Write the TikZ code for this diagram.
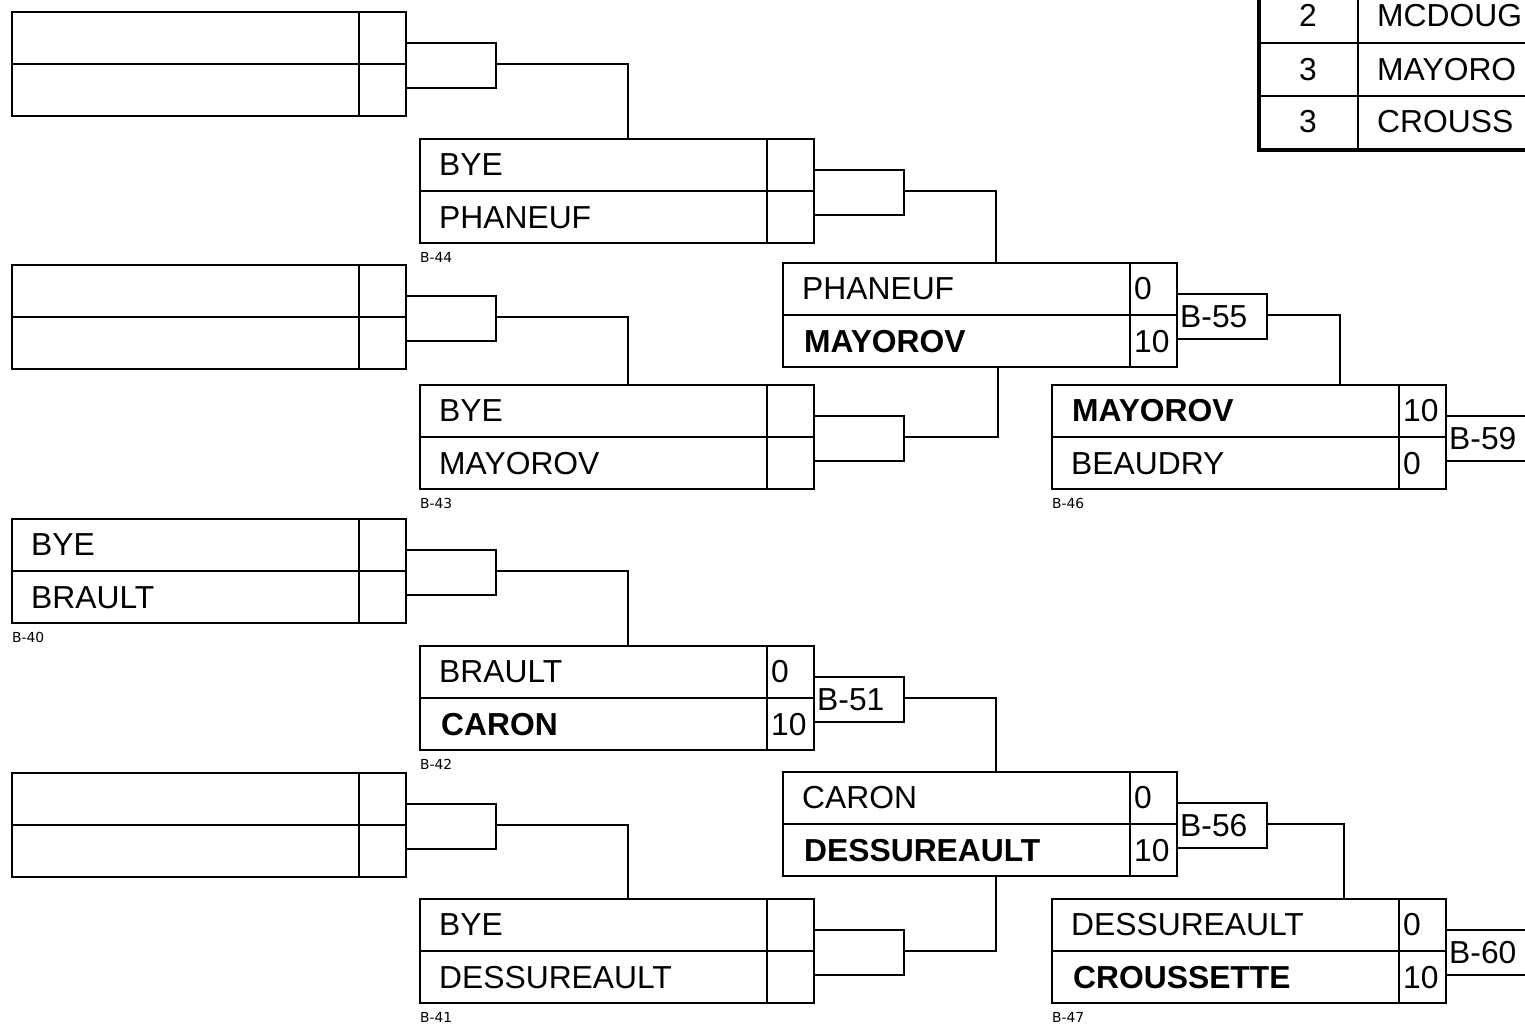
\documentclass[tikz,border=0pt]{standalone}
\usepackage{fontspec}
\setmainfont{Liberation Sans}
\newfontfamily\labfont{DejaVu Sans}
\usetikzlibrary{calc}
\tikzset{
  ln/.style={line width=2pt},
  mbox/.style={draw, line width=2pt, rectangle, minimum width=394pt, minimum height=104pt, anchor=north west, inner sep=0pt, outer sep=0pt},
  brk/.style={draw, line width=2pt, rectangle, minimum width=90pt, minimum height=45pt, anchor=north west, inner sep=0pt, outer sep=0pt},
  nm/.style={anchor=base west, inner sep=0pt, font=\fontsize{31.8}{38}\selectfont},
  lab/.style={anchor=base west, inner sep=0pt, font=\labfont\fontsize{13.8}{16}\selectfont},
}
% #1 name, #2 x, #3 y, #4 top name, #5 bottom name, #6 top score, #7 bottom score, #8 label
\newcommand\mtch[8]{%
  \node[mbox] (#1) at (#2,#3) {};
  \draw[ln] (#1.west) -- (#1.east);
  \draw[ln] ([xshift=347pt]#1.north west) -- ([xshift=347pt]#1.south west);
  \node[nm] (#1-a) at ([xshift=19pt,yshift=-36pt]#1.north west) {#4};
  \node[nm] (#1-b) at ([xshift=19pt,yshift=-89pt]#1.north west) {#5};
  \node[nm] (#1-as) at ([xshift=351pt,yshift=-36pt]#1.north west) {#6};
  \node[nm] (#1-bs) at ([xshift=351pt,yshift=-89pt]#1.north west) {#7};
  \node[lab] (#1-l) at ([yshift=-19pt]#1.south west) {#8};
}
% bracket: #1 match name, #2 text
\newcommand\bkt[2]{%
  \node[brk] (#1-k) at ([yshift=-31pt]#1.north east) {};
  \node[nm] (#1-kt) at ([xshift=3pt,yshift=-33pt]#1-k.north west) {#2};
}
\begin{document}
\begin{tikzpicture}[x=1pt,y=-1pt]
\useasboundingbox (0,0) rectangle (1525,1025);
\clip (0,0) rectangle (1525,1025);
\fill[white] (0,0) rectangle (1525,1025);

% first column
\mtch{e1}{12}{12}{}{}{}{}{}
\mtch{e2}{12}{265}{}{}{}{}{}
\mtch{m40}{12}{519}{BYE}{BRAULT}{}{}{B-40}
\mtch{e3}{12}{773}{}{}{}{}{}
% second column
\mtch{m44}{420}{139}{BYE}{PHANEUF}{}{}{B-44}
\mtch{m43}{420}{385}{BYE}{MAYOROV}{}{}{B-43}
\mtch{m42}{420}{646}{BRAULT}{\hspace*{2pt}\textbf{CARON}}{0}{10}{B-42}
\mtch{m41}{420}{899}{BYE}{DESSUREAULT}{}{}{B-41}
% third column
\mtch{m55}{783}{263}{PHANEUF}{\hspace*{2pt}\textbf{MAYOROV}}{0}{10}{}
\mtch{m56}{783}{772}{CARON}{\hspace*{2pt}\textbf{DESSUREAULT}}{0}{10}{}
% fourth column
\mtch{m46}{1052}{385}{\hspace*{1pt}\textbf{MAYOROV}}{BEAUDRY}{10}{0}{B-46}
\mtch{m47}{1052}{899}{DESSUREAULT}{\hspace*{2pt}\textbf{CROUSSETTE}}{0}{10}{B-47}

% brackets
\bkt{e1}{}
\bkt{e2}{}
\bkt{m40}{}
\bkt{e3}{}
\bkt{m44}{}
\bkt{m43}{}
\bkt{m42}{B-51}
\bkt{m41}{}
\bkt{m55}{B-55}
\bkt{m56}{B-56}
\bkt{m46}{B-59}
\bkt{m47}{B-60}

% junction points
\coordinate (j44) at ([xshift=208pt]m44.north west);
\coordinate (j43) at ([xshift=208pt]m43.north west);
\coordinate (j42) at ([xshift=208pt]m42.north west);
\coordinate (j41) at ([xshift=208pt]m41.north west);
\coordinate (j55t) at ([xshift=213pt]m55.north west);
\coordinate (j55b) at ([xshift=215pt]m55.south west);
\coordinate (j56t) at ([xshift=213pt]m56.north west);
\coordinate (j56b) at ([xshift=213pt]m56.south west);
\coordinate (j46) at ([xshift=288pt]m46.north west);
\coordinate (j47) at ([xshift=292pt]m47.north west);

% connectors
\draw[ln] (e1.west -| e1-k.east) -| (j44);
\draw[ln] (e2.west -| e2-k.east) -| (j43);
\draw[ln] (m40.west -| m40-k.east) -| (j42);
\draw[ln] (e3.west -| e3-k.east) -| (j41);
\draw[ln] (m44.west -| m44-k.east) -| (j55t);
\draw[ln] (m43.west -| m43-k.east) -| (j55b);
\draw[ln] (m42.west -| m42-k.east) -| (j56t);
\draw[ln] (m41.west -| m41-k.east) -| (j56b);
\draw[ln] (m55.west -| m55-k.east) -| (j46);
\draw[ln] (m56.west -| m56-k.east) -| (j47);

% standings table (top right)
\coordinate (tbl) at (1259,150);
\draw[line width=4.5pt] (1259,-30) -- (tbl) -- (1545,150);
\draw[ln] (1358,-30) -- (1358,150);
\draw[ln] (1259,43) -- (1545,43);
\draw[ln] (1259,96) -- (1545,96);
\node[nm, anchor=base] (r1n) at (1308,27) {2};
\node[nm] (r1t) at (1377,27) {MCDOUG};
\node[nm, anchor=base] (r2n) at (1308,80) {3};
\node[nm] (r2t) at (1377,80) {MAYORO};
\node[nm, anchor=base] (r3n) at (1308,132) {3};
\node[nm] (r3t) at (1377,132) {CROUSS};
\end{tikzpicture}
\end{document}
